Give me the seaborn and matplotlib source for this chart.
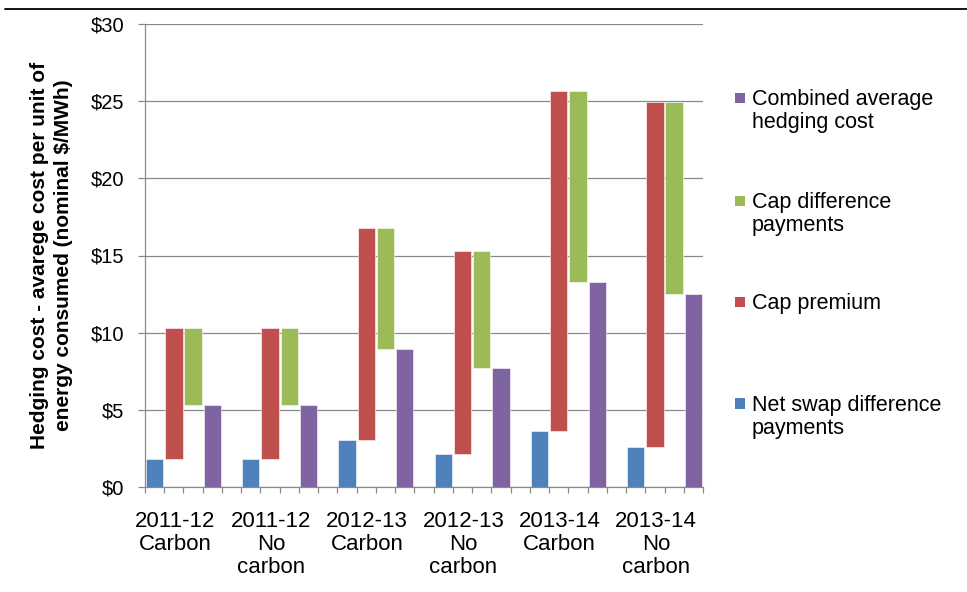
import matplotlib
matplotlib.use("Agg")
import matplotlib.pyplot as plt
import numpy as np
import pandas as pd
import seaborn as sns
from matplotlib.lines import Line2D
from matplotlib.patches import Rectangle

# Scenarios (one cluster of four bars each)
scenarios = ["2011-12\nCarbon", "2011-12\nNo\ncarbon", "2012-13\nCarbon",
             "2012-13\nNo\ncarbon", "2013-14\nCarbon", "2013-14\nNo\ncarbon"]

# Waterfall components, nominal $/MWh
net_swap = [1.80, 1.80, 3.05, 2.14, 3.65, 2.61]          # from zero
cap_premium = [8.50, 8.50, 13.72, 13.17, 22.01, 22.36]   # stacked on net swap
cap_difference = [-5.00, -5.00, -7.81, -7.62, -12.37, -12.48]  # drop from cap top
combined = [5.30, 5.30, 8.96, 7.69, 13.29, 12.49]        # from zero

y_ticks = [0, 5, 10, 15, 20, 25, 30]

names = ["Net swap difference\npayments", "Cap premium",
         "Cap difference\npayments", "Combined average\nhedging cost"]
colors = ["#4F81BD", "#C0504D", "#9BBB59", "#8064A2"]

W, H = 967, 592


def fx(px):
    return px / W


def fy(py):
    return 1 - py / H


sns.set_theme(style="white")
plt.rcParams["font.family"] = ["Liberation Sans", "DejaVu Sans"]
plt.rcParams["text.color"] = "black"
plt.rcParams["axes.labelcolor"] = "black"

fig = plt.figure(figsize=(W / 100, H / 100), dpi=100)
ax = fig.add_axes([fx(145), fy(487), fx(703) - fx(145), fy(24) - fy(487)])

# 4 bars per scenario plus an empty spacer slot between scenarios
n_groups = len(scenarios)
n_slots = n_groups * 5 - 1
slots = [f"slot{i}" for i in range(n_slots)]

cap_top = [a + b for a, b in zip(net_swap, cap_premium)]
layers = [
    (net_swap, [0] * n_groups),
    (cap_premium, net_swap),
    (cap_difference, cap_top),
    (combined, [0] * n_groups),
]

for k, ((heights, bottoms), color) in enumerate(zip(layers, colors)):
    df = pd.DataFrame({
        "slot": [slots[5 * g + k] for g in range(n_groups)],
        "value": heights,
    })
    sns.barplot(data=df, x="slot", y="value", order=slots, color=color,
                saturation=1, width=0.9, bottom=bottoms, errorbar=None,
                edgecolor="white", linewidth=0.4, ax=ax)

ax.set_xlim(-0.5, n_slots - 0.5)
ax.set_ylim(0, 30)
ax.set_yticks(y_ticks)
ax.set_yticklabels([f"${v}" for v in y_ticks], fontsize=14.5)

# tick marks at every slot boundary, scenario labels as minor ticks
ax.set_xticks(np.arange(-0.5, n_slots, 1.0))
ax.set_xticklabels([])
label_pos = [1.05 + 5 * g for g in range(n_groups)]
ax.set_xticks(label_pos, minor=True)
ax.set_xticklabels(scenarios, minor=True, fontsize=16, linespacing=1.13)
ax.tick_params(axis="x", which="minor", length=0, pad=17, labelcolor="black")
ax.tick_params(axis="x", which="major", length=4.5, width=0.9,
               color="#8a8a8a", direction="out", bottom=True)
ax.tick_params(axis="y", length=5, width=0.9, color="#8a8a8a",
               direction="out", left=True, pad=10, labelcolor="black")

ax.set_xlabel("")
ax.set_ylabel("Hedging cost - avarege cost per unit of\n"
              "energy consumed (nominal $/MWh)",
              fontsize=15, fontweight="bold", linespacing=1.3, color="black")
ax.yaxis.set_label_coords((73 - 145) / 558, 0.5)

ax.yaxis.grid(True, color="#8a8a8a", linewidth=0.9)
ax.xaxis.grid(False)
ax.set_axisbelow(True)
for side in ["top", "right"]:
    ax.spines[side].set_visible(False)
for side in ["left", "bottom"]:
    ax.spines[side].set_color("#8a8a8a")
    ax.spines[side].set_linewidth(0.9)

# legend, top entry = last series
legend_y = [98, 201, 302, 403.5]
for (name, color), yc in zip(list(zip(names, colors))[::-1], legend_y):
    fig.add_artist(Rectangle((fx(734.5), fy(yc + 5.2)), fx(10.5), 10.5 / H,
                             transform=fig.transFigure, facecolor=color,
                             edgecolor="none"))
    fig.text(fx(752), fy(yc - 8.5), name, fontsize=15.5, va="top",
             ha="left", linespacing=1.12, color="black")

# page rule above the chart
fig.add_artist(Line2D([fx(5), 1.0], [fy(9), fy(9)], color="black",
                      linewidth=1.3, transform=fig.transFigure))

fig.savefig("out.png", dpi=100, facecolor="white")
